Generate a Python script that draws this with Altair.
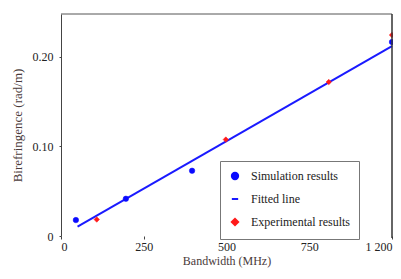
import altair as alt
import pandas as pd

# Axis positions (x tick "1 200" sits at position 1000 of the drawn scale)
sim_x = [45, 196, 396, 1000]
sim_y = [0.0178, 0.0416, 0.0729, 0.2167]
exp_x = [108, 498, 809, 1000]
exp_y = [0.0184, 0.1077, 0.172, 0.2245]
fit_x = [50, 1000]
fit_y = [0.0105, 0.212]

series_names = ["Simulation results", "Fitted line", "Experimental results"]
x_ticks = [0, 250, 500, 750, 1000]
y_ticks = [0, 0.1, 0.2]

pts = pd.DataFrame(
    {"x": sim_x + exp_x,
     "y": sim_y + exp_y,
     "series": ["Simulation results"] * len(sim_x) + ["Experimental results"] * len(exp_x)}
)
fit = pd.DataFrame({"x": fit_x, "y": fit_y, "series": ["Fitted line"] * len(fit_x)})

FONT = "Liberation Serif"
W, H = 331, 222

xscale = alt.Scale(domain=[0, 1000], nice=False, zero=False)
yscale = alt.Scale(domain=[0, 0.248], nice=False)

xaxis = alt.Axis(
    title="Bandwidth (MHz)", values=x_ticks, domain=False, grid=False,
    tickSize=3, labelPadding=2, titlePadding=3, titleFontSize=12,
    labelExpr="datum.value == 1000 ? '1 200' : datum.label",
    format="d",
)
yaxis = alt.Axis(
    title="Birefringence (rad/m)", values=y_ticks, grid=False,
    tickSize=2, labelPadding=6, titlePadding=8,
    labelExpr="datum.value == 0 ? '0' : format(datum.value, '.2f')",
)

color_scale = alt.Scale(domain=series_names, range=["#0a0aff", "#1a1aff", "#ff1a1a"])
shape_scale = alt.Scale(domain=series_names, range=["circle", "stroke", "diamond"])

leg = alt.Legend(
    title=None, orient="none", legendX=159, legendY=147,
    strokeColor="#777777", padding=9, rowPadding=9,
    labelFont=FONT, labelFontSize=12, labelColor="#222222",
    symbolStrokeWidth=2, symbolSize=40, labelOffset=10, fillColor="white",
)

line = alt.Chart(fit).mark_line(color="#1a1aff", strokeWidth=2).encode(
    x=alt.X("x:Q", scale=xscale, axis=xaxis),
    y=alt.Y("y:Q", scale=yscale, axis=yaxis),
)

points = alt.Chart(pts).mark_point(filled=True, size=30, opacity=1, strokeWidth=0.5).encode(
    x=alt.X("x:Q", scale=xscale),
    y=alt.Y("y:Q", scale=yscale),
    fill=alt.Fill("series:N", scale=color_scale, legend=leg),
    stroke=alt.Stroke("series:N", scale=color_scale, legend=leg),
    shape=alt.Shape("series:N", scale=shape_scale, legend=leg),
)

frame_top = alt.Chart(pd.DataFrame({"a": [0]})).mark_rule(color="#555555", strokeWidth=1).encode(
    x=alt.value(0), x2=alt.value(W), y=alt.value(0)
)
frame_right = alt.Chart(pd.DataFrame({"a": [0]})).mark_rule(color="#333333", strokeWidth=1.5).encode(
    x=alt.value(W), y=alt.value(0), y2=alt.value(H + 2)
)

chart = alt.layer(line, points, frame_top, frame_right).properties(
    width=W, height=H,
    autosize=alt.AutoSizeParams(type="none"),
    padding={"left": 53, "top": 6, "right": 1, "bottom": 35},
).configure_view(stroke=None).configure_axis(
    labelFont=FONT, titleFont=FONT, labelFontSize=12, titleFontSize=13,
    labelColor="#222222", titleColor="#4a3a3a", titleFontWeight="normal",
    domainColor="#444444", tickColor="#444444",
)

chart.save("out.html", embed_options={"renderer": "svg", "actions": False})
